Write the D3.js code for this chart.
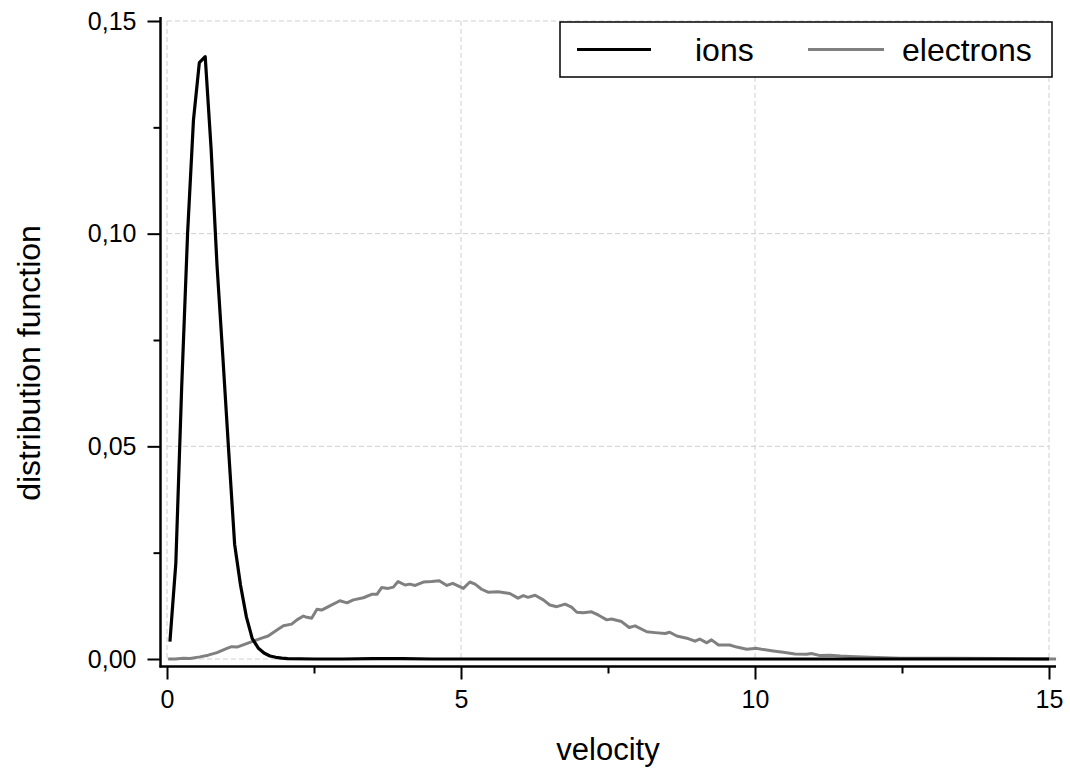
<!DOCTYPE html>
<html>
<head>
<meta charset="utf-8">
<script src="https://cdn.jsdelivr.net/npm/d3@7"></script>
<style>
  html, body { margin: 0; padding: 0; background: #fff; }
  svg { display: block; }
  text { font-family: "Liberation Sans", Arial, sans-serif; fill: #000; }
</style>
</head>
<body>
<svg id="chart" width="1070" height="771"></svg>
<script>
// Tick values
const xTicks = [0, 5, 10, 15];
const xMinorTicks = [2.5, 7.5, 12.5];
const yTicks = [0, 0.05, 0.10, 0.15];
const yMinorTicks = [0.025, 0.075, 0.125];

// Ion distribution (velocity, value)
const ionVelocity = [0.05, 0.15, 0.25, 0.35, 0.45, 0.55, 0.65, 0.75, 0.85, 0.95,
  1.05, 1.15, 1.25, 1.35, 1.45, 1.55, 1.65, 1.75, 1.85, 1.95,
  2.05, 2.5, 3.0, 3.5, 4.0, 4.5, 5, 6, 7, 8, 9, 10, 11, 12, 13, 14, 15];
const ionValue = [0.0041, 0.0225, 0.0640, 0.1000, 0.1267, 0.1402, 0.1416, 0.1200, 0.0927, 0.0710,
  0.0487, 0.0270, 0.0174, 0.0099, 0.0048, 0.0026, 0.0014, 0.0007, 0.0004, 0.0002,
  0.0001, 0.0000, 0.0000, 0.0001, 0.0001, 0.0000, 0, 0, 0, 0, 0, 0, 0, 0, 0, 0, 0];

// Electron distribution (velocity, value)
const electronVelocity = [0.02, 0.14, 0.28, 0.39, 0.56, 0.70, 0.85, 1.02, 1.10, 1.19,
  1.33, 1.47, 1.61, 1.72, 1.87, 1.98, 2.12, 2.21, 2.32, 2.38,
  2.46, 2.55, 2.63, 2.77, 2.94, 3.06, 3.17, 3.34, 3.48, 3.57,
  3.65, 3.76, 3.85, 3.93, 4.05, 4.13, 4.22, 4.36, 4.50, 4.63,
  4.76, 4.86, 5.04, 5.15, 5.24, 5.35, 5.46, 5.63, 5.83, 5.97,
  6.06, 6.14, 6.26, 6.40, 6.51, 6.63, 6.77, 6.88, 6.97, 7.08,
  7.22, 7.34, 7.48, 7.56, 7.73, 7.86, 7.96, 8.16, 8.30, 8.47,
  8.55, 8.67, 8.84, 8.98, 9.06, 9.18, 9.26, 9.38, 9.57, 9.69,
  9.86, 10.03, 10.11, 10.31, 10.48, 10.68, 10.88, 10.96, 11.11, 11.28,
  11.45, 11.62, 11.96, 12.47, 13.32, 14.17, 15.12];
const electronValue = [0.0000, 0.0000, 0.0002, 0.0001, 0.0005, 0.0009, 0.0015, 0.0025, 0.0029, 0.0028,
  0.0035, 0.0042, 0.0049, 0.0054, 0.0068, 0.0078, 0.0082, 0.0092, 0.0101, 0.0098,
  0.0096, 0.0117, 0.0115, 0.0125, 0.0137, 0.0132, 0.0139, 0.0144, 0.0152, 0.0152,
  0.0168, 0.0166, 0.0169, 0.0182, 0.0174, 0.0176, 0.0173, 0.0181, 0.0182, 0.0184,
  0.0173, 0.0178, 0.0166, 0.0181, 0.0176, 0.0164, 0.0157, 0.0158, 0.0154, 0.0143,
  0.0149, 0.0145, 0.0150, 0.0139, 0.0127, 0.0123, 0.0129, 0.0122, 0.0110, 0.0109,
  0.0111, 0.0103, 0.0092, 0.0094, 0.0088, 0.0074, 0.0078, 0.0064, 0.0062, 0.0060,
  0.0063, 0.0054, 0.0049, 0.0042, 0.0047, 0.0038, 0.0045, 0.0033, 0.0033, 0.0028,
  0.0023, 0.0025, 0.0023, 0.0019, 0.0016, 0.0012, 0.0011, 0.0013, 0.0008, 0.0009,
  0.0007, 0.0006, 0.0004, 0.0002, 0.0002, 0.0001, 0.0000];

const seriesNames = ["ions", "electrons"];
const seriesColors = ["#000000", "#808080"];

const svg = d3.select("#chart");

const x = d3.scaleLinear().domain([0, 15]).range([167, 1049]);
const y = d3.scaleLinear().domain([0, 0.15]).range([659, 21]);

// Axis lines sit slightly offset from the data origin
const axisX = 160.5;   // vertical axis position
const axisY = 666.5;   // horizontal axis position

const comma = d3.formatLocale({ decimal: ",", thousands: ".", grouping: [3], currency: ["", ""] });
const fmtY = comma.format(".2f");

// Grid
const grid = svg.append("g").attr("stroke", "#cfcfcf").attr("stroke-width", 1)
  .attr("stroke-dasharray", "5,3").attr("fill", "none");
grid.selectAll("line.v").data(xTicks).join("line")
  .attr("x1", d => x(d)).attr("x2", d => x(d))
  .attr("y1", y(0.15)).attr("y2", y(0));
grid.selectAll("line.h").data(yTicks).join("line")
  .attr("x1", x(0)).attr("x2", x(15))
  .attr("y1", d => y(d)).attr("y2", d => y(d));

// Curves
const line = d3.line().x(d => x(d[0])).y(d => y(d[1]));
const electrons = electronVelocity.map((v, i) => [v, electronValue[i]]);
const ions = ionVelocity.map((v, i) => [v, ionValue[i]]);

svg.append("path").datum(electrons)
  .attr("fill", "none").attr("stroke", seriesColors[1]).attr("stroke-width", 3)
  .attr("stroke-linejoin", "round").attr("d", line);
svg.append("path").datum(ions)
  .attr("fill", "none").attr("stroke", seriesColors[0]).attr("stroke-width", 3.2)
  .attr("stroke-linejoin", "round").attr("d", line);

// Axes
const xAxis = svg.append("g").attr("transform", `translate(0,${axisY})`)
  .call(d3.axisBottom(x).tickValues(xTicks).tickSize(13).tickPadding(11).tickSizeOuter(0));
const xMinor = svg.append("g").attr("transform", `translate(0,${axisY})`)
  .call(d3.axisBottom(x).tickValues(xMinorTicks).tickSize(7).tickFormat("").tickSizeOuter(0));
const yAxis = svg.append("g").attr("transform", `translate(${axisX},0)`)
  .call(d3.axisLeft(y).tickValues(yTicks).tickSize(13).tickPadding(11).tickFormat(fmtY).tickSizeOuter(0));
const yMinor = svg.append("g").attr("transform", `translate(${axisX},0)`)
  .call(d3.axisLeft(y).tickValues(yMinorTicks).tickSize(7).tickFormat("").tickSizeOuter(0));

[xAxis, xMinor, yAxis, yMinor].forEach(g => {
  g.select(".domain").remove();
  g.selectAll(".tick line").attr("stroke", "#000").attr("stroke-width", 2);
  g.selectAll(".tick text").attr("font-size", 25).attr("fill", "#000")
    .style("font-family", '"Liberation Sans", Arial, sans-serif');
});

svg.append("line").attr("x1", axisX).attr("x2", axisX).attr("y1", 17).attr("y2", axisY + 1)
  .attr("stroke", "#000").attr("stroke-width", 2.5);
svg.append("line").attr("x1", axisX - 1).attr("x2", 1056).attr("y1", axisY).attr("y2", axisY)
  .attr("stroke", "#000").attr("stroke-width", 2.5);

// Axis titles
svg.append("text").attr("x", (x(0) + x(15)) / 2).attr("y", 760)
  .attr("text-anchor", "middle").attr("font-size", 31).text("velocity");
svg.append("text").attr("transform", `translate(40,${(y(0) + y(0.15)) / 2 + 23}) rotate(-90)`)
  .attr("text-anchor", "middle").attr("font-size", 32).text("distribution function");

// Legend
const legend = svg.append("g");
legend.append("rect").attr("x", 560).attr("y", 22).attr("width", 492).attr("height", 55)
  .attr("fill", "#fff").attr("stroke", "#000").attr("stroke-width", 1.5);
const legendItems = [
  { name: seriesNames[0], color: seriesColors[0], x1: 577, x2: 651, tx: 695 },
  { name: seriesNames[1], color: seriesColors[1], x1: 808, x2: 884, tx: 902 }
];
legendItems.forEach(it => {
  legend.append("line").attr("x1", it.x1).attr("x2", it.x2).attr("y1", 49.5).attr("y2", 49.5)
    .attr("stroke", it.color).attr("stroke-width", 3);
  legend.append("text").attr("x", it.tx).attr("y", 61).attr("font-size", 32).text(it.name);
});
</script>
</body>
</html>
